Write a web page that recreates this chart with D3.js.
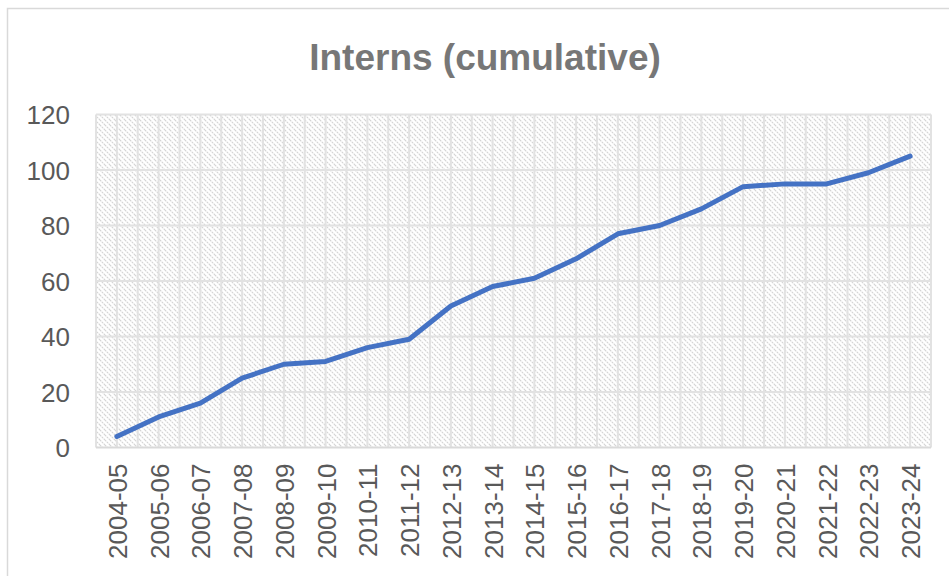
<!DOCTYPE html>
<html>
<head>
<meta charset="utf-8">
<script src="https://cdn.jsdelivr.net/npm/d3@7"></script>
<style>
  html, body { margin: 0; padding: 0; background: #ffffff; }
  svg { display: block; }
</style>
</head>
<body>
<svg id="chart" width="949" height="576"></svg>
<script>
const title = "Interns (cumulative)";
const categories = ["2004-05","2005-06","2006-07","2007-08","2008-09","2009-10","2010-11","2011-12","2012-13","2013-14","2014-15","2015-16","2016-17","2017-18","2018-19","2019-20","2020-21","2021-22","2022-23","2023-24"];
const interns = [4, 11, 16, 25, 30, 31, 36, 39, 51, 58, 61, 68, 77, 80, 86, 94, 95, 95, 99, 105];
const yTicks = [0, 20, 40, 60, 80, 100, 120];

const svg = d3.select("#chart");
const plot = { left: 96, right: 931, top: 114.5, bottom: 447.5 };

// outer chart border
svg.append("rect")
  .attr("x", 7.5).attr("y", 8.5)
  .attr("width", 980).attr("height", 620)
  .attr("fill", "#ffffff")
  .attr("stroke", "#d9d9d9").attr("stroke-width", 1.5);

// hatch pattern
const defs = svg.append("defs");
const pat = defs.append("pattern")
  .attr("id", "hatch")
  .attr("patternUnits", "userSpaceOnUse")
  .attr("width", 5).attr("height", 5);
pat.append("rect").attr("width", 5).attr("height", 5).attr("fill", "#ffffff");
pat.append("path")
  .attr("d", "M0,0 L5,5 M-1,4 L1,6 M4,-1 L6,1")
  .attr("stroke", "#d3d3d3").attr("stroke-width", 1.1)
  .attr("stroke-dasharray", "1.8,0.8");

const x = d3.scaleBand().domain(categories).range([plot.left, plot.right]).padding(0);
const bw = x.bandwidth();
const cx = c => x(c) + bw / 2;
const y = d3.scaleLinear().domain([0, 120]).range([plot.bottom, plot.top]);

// plot background
svg.append("rect")
  .attr("x", plot.left).attr("y", plot.top)
  .attr("width", plot.right - plot.left).attr("height", plot.bottom - plot.top)
  .attr("fill", "url(#hatch)");

// vertical gridlines: category edges and centers
const vx = [];
categories.forEach(c => { vx.push(x(c)); vx.push(cx(c)); });
vx.push(plot.right);
svg.append("g").selectAll("line").data(vx).join("line")
  .attr("x1", d => d).attr("x2", d => d)
  .attr("y1", plot.top).attr("y2", plot.bottom)
  .attr("stroke", "#e2e2e2").attr("stroke-width", 2);

// horizontal gridlines
svg.append("g").selectAll("line").data(yTicks).join("line")
  .attr("x1", plot.left).attr("x2", plot.right)
  .attr("y1", d => y(d)).attr("y2", d => y(d))
  .attr("stroke", d => d === 0 ? "#d9d9d9" : "#e2e2e2").attr("stroke-width", 2);

// y axis labels
const yAxis = svg.append("g")
  .attr("transform", `translate(${plot.left - 26},0)`)
  .call(d3.axisLeft(y).tickValues(yTicks).tickSize(0).tickPadding(0));
yAxis.select(".domain").remove();
yAxis.selectAll("text")
  .attr("font-family", "Liberation Sans, Arial, sans-serif")
  .attr("font-size", 26)
  .attr("fill", "#595959")
  .attr("dy", "0.36em");

// x axis labels
const xPoint = d3.scalePoint().domain(categories).range([cx(categories[0]), cx(categories[categories.length - 1])]);
const xAxis = svg.append("g")
  .attr("transform", `translate(0,${plot.bottom})`)
  .call(d3.axisBottom(xPoint).tickSize(0).tickPadding(0));
xAxis.select(".domain").remove();
xAxis.selectAll("text")
  .attr("font-family", "Liberation Sans, Arial, sans-serif")
  .attr("font-size", 26)
  .attr("fill", "#595959")
  .attr("text-anchor", "end")
  .attr("transform", "translate(0,16) rotate(-90)")
  .attr("x", 0).attr("y", 0)
  .attr("dy", "0.36em");

// line
const line = d3.line()
  .x((d, i) => cx(categories[i]))
  .y(d => y(d));
svg.append("path")
  .datum(interns)
  .attr("d", line)
  .attr("fill", "none")
  .attr("stroke", "#4472C4")
  .attr("stroke-width", 5)
  .attr("stroke-linejoin", "round")
  .attr("stroke-linecap", "round");

// title
svg.append("text")
  .attr("x", 485).attr("y", 70)
  .attr("text-anchor", "middle")
  .attr("font-family", "Liberation Sans, Arial, sans-serif")
  .attr("font-weight", "bold")
  .attr("font-size", 37)
  .attr("fill", "#777777")
  .text(title);
</script>
</body>
</html>
